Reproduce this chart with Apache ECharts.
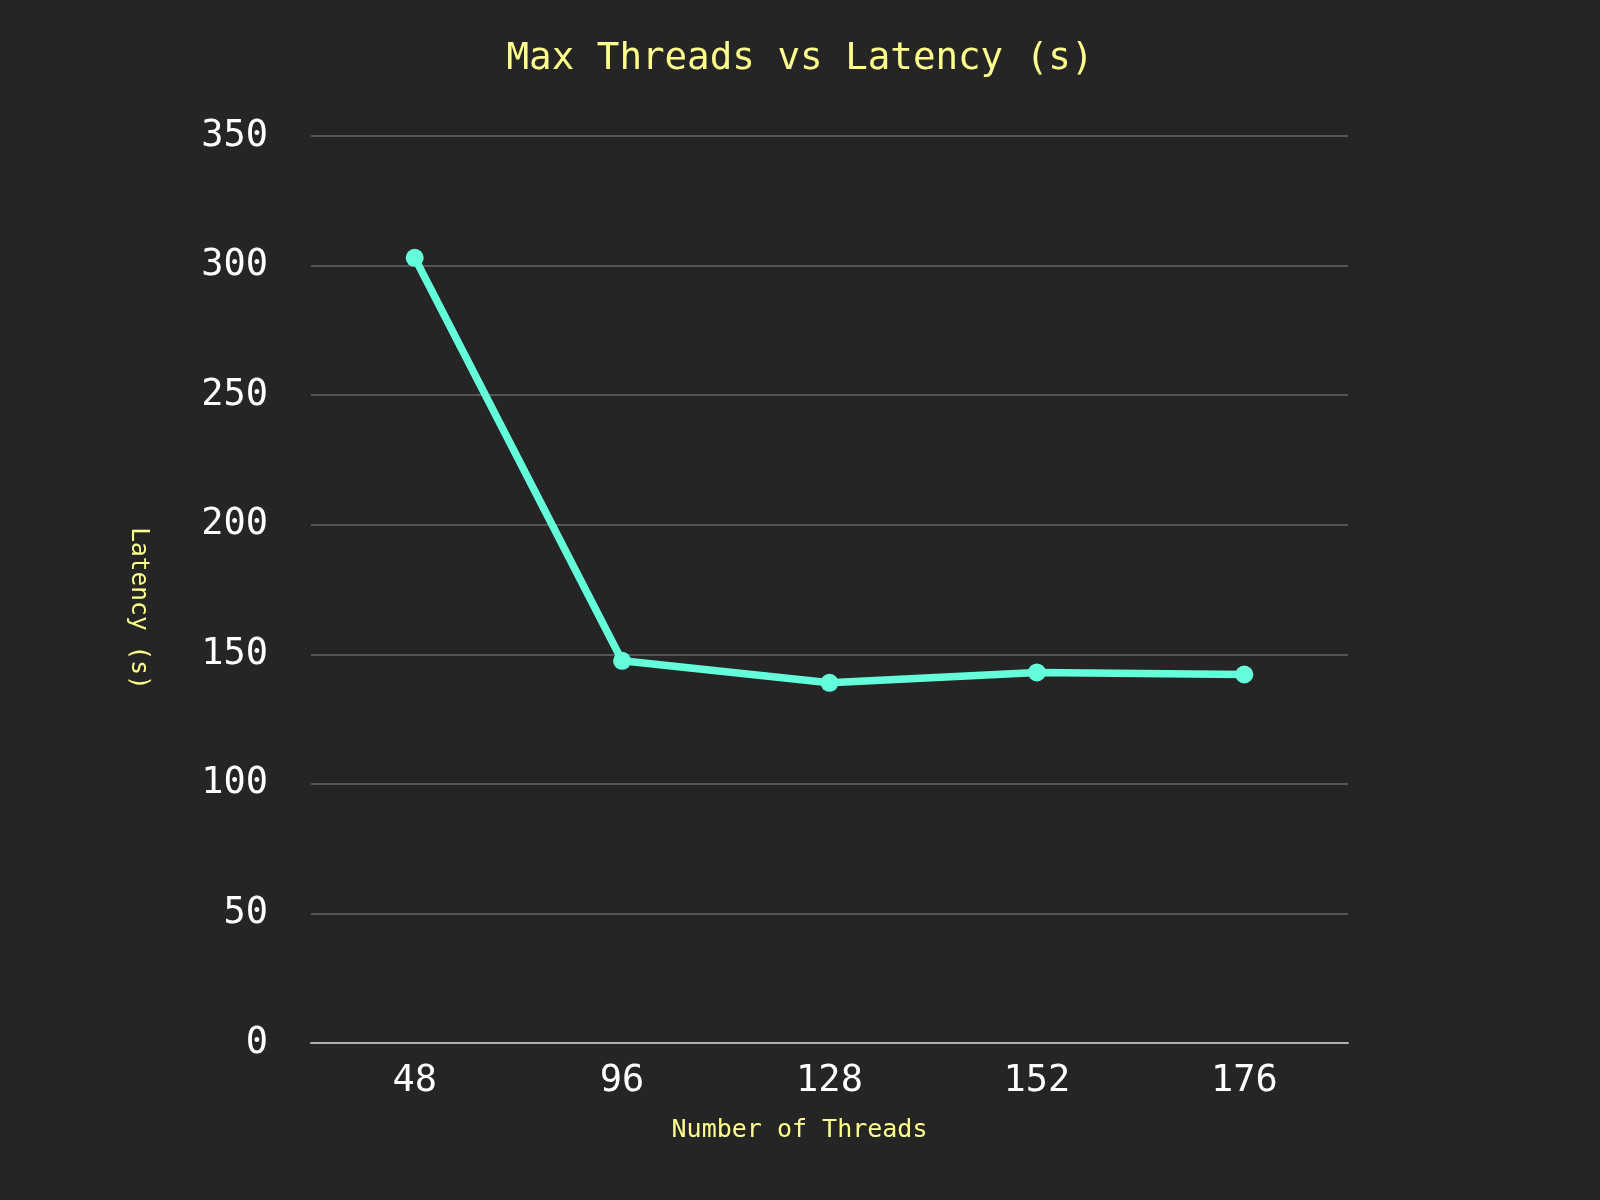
<!DOCTYPE html>
<html>
<head>
<meta charset="utf-8">
<script src="https://cdn.jsdelivr.net/npm/echarts@6/dist/echarts.min.js"></script>
<style>
html,body{margin:0;padding:0;background:#252525;}
#chart{width:1600px;height:1200px;}
</style>
</head>
<body>
<div id="chart"></div>
<script>
const categories = ['48', '96', '128', '152', '176'];
const latency = [303, 147.5, 139, 143, 142.2];
const yTicks = { min: 0, max: 350, interval: 50 };
const titleText = 'Max Threads vs Latency (s)';
const xName = 'Number of Threads';
const yName = 'Latency (s)';

const mono = '"DejaVu Sans Mono", "Liberation Mono", monospace';
const chart = echarts.init(document.getElementById('chart'), null, {renderer: 'canvas'});
chart.setOption({
  backgroundColor: '#252525',
  animation: false,
  title: {
    text: titleText,
    left: 'center',
    top: 35,
    textStyle: { color: '#FFFF8D', fontFamily: mono, fontSize: 37.5, fontWeight: 'normal' }
  },
  grid: { left: 311, right: 252, top: 136, bottom: 157, containLabel: false },
  xAxis: {
    type: 'category',
    data: categories,
    boundaryGap: true,
    name: xName,
    nameLocation: 'middle',
    nameGap: 75,
    nameTextStyle: { color: '#FFFF8D', fontFamily: mono, fontSize: 25, padding: [0, 60, 0, 0] },
    axisLine: { show: true, lineStyle: { color: '#b0b0b0', width: 2 } },
    axisTick: { show: false },
    axisLabel: { color: '#ffffff', fontFamily: mono, fontSize: 37, margin: 20 },
    splitLine: { show: false }
  },
  yAxis: {
    type: 'value',
    min: yTicks.min, max: yTicks.max, interval: yTicks.interval,
    name: yName,
    nameLocation: 'middle',
    nameRotate: -90,
    nameGap: 160,
    nameTextStyle: { color: '#FFFF8D', fontFamily: mono, fontSize: 24.5, padding: [0, 0, 0, 38] },
    axisLine: { show: false },
    axisTick: { show: false },
    axisLabel: { color: '#ffffff', fontFamily: mono, fontSize: 37, margin: 43 },
    splitLine: { show: true, lineStyle: { color: '#555555', width: 2 } }
  },
  series: [{
    type: 'line',
    data: latency,
    symbol: 'circle',
    symbolSize: 18,
    lineStyle: { color: '#64FFDA', width: 7.5 },
    itemStyle: { color: '#64FFDA' }
  }]
});
</script>
</body>
</html>
